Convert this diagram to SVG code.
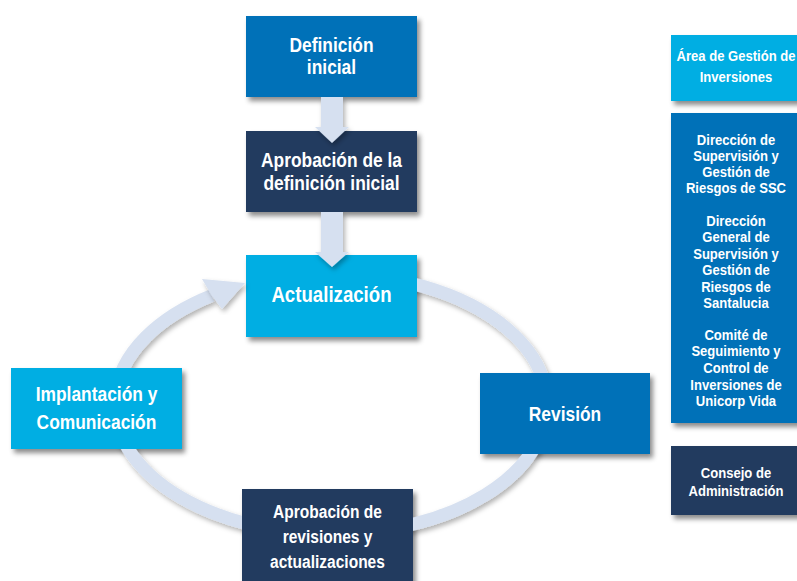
<svg xmlns="http://www.w3.org/2000/svg" width="797" height="581" viewBox="0 0 797 581">
  <style>
    text { font-family: "Liberation Sans", Arial, sans-serif; font-weight: bold; fill: #ffffff; text-anchor: middle; transform-box: fill-box; transform-origin: center; transform: scaleX(0.84); }
    .main { font-size: 20.7px; }
    .big { font-size: 22.2px; }
    .small { font-size: 18.5px; }
    .side { font-size: 15.2px; transform: scaleX(0.86); }
    .cyan { fill: #00aee3; }
    .blue { fill: #0071b8; }
    .navy { fill: #243b5e; }
    .box { filter: url(#shadow); }
    .flow { fill: #d6e0f0; filter: url(#ashadow); }
    .ring { fill: none; stroke: #d6e0f0; stroke-width: 13; filter: url(#ashadow); }
  </style>
  <defs>
    <filter id="shadow" x="-10%" y="-10%" width="130%" height="140%">
      <feDropShadow dx="3" dy="4" stdDeviation="2.5" flood-color="#000000" flood-opacity="0.45"/>
    </filter>
    <filter id="ashadow" x="-10%" y="-10%" width="130%" height="130%">
      <feDropShadow dx="2" dy="3" stdDeviation="2.5" flood-color="#000000" flood-opacity="0.3"/>
    </filter>
    <mask id="ringMask" maskUnits="userSpaceOnUse" x="0" y="0" width="797" height="581">
      <rect x="0" y="0" width="797" height="581" fill="#ffffff"/>
      <rect x="246" y="255" width="171" height="82" fill="#000000"/>
      <rect x="11" y="368" width="171" height="81" fill="#000000"/>
      <rect x="480" y="373" width="170" height="81" fill="#000000"/>
      <rect x="242" y="489" width="171" height="92" fill="#000000"/>
    </mask>
  </defs>

  <rect width="797" height="581" fill="#ffffff"/>

  <g id="node-definicion">
    <rect class="box blue" x="246" y="16" width="171" height="81"/>
    <text class="main" x="331.5" y="52">Definición</text>
    <text class="main" x="331.5" y="74.5">inicial</text>
  </g>

  <g id="node-aprobacion-definicion">
    <rect class="box navy" x="246" y="131" width="171" height="81"/>
    <text class="main" x="331.5" y="167">Aprobación de la</text>
    <text class="main" x="331.5" y="190">definición inicial</text>
  </g>

  <g id="node-actualizacion">
    <rect class="box cyan" x="246" y="255" width="171" height="82"/>
    <text class="big" x="331.5" y="302.5">Actualización</text>
  </g>

  <g id="node-implantacion">
    <rect class="box cyan" x="11" y="368" width="171" height="81"/>
    <text class="main" x="96.5" y="401.5">Implantación y</text>
    <text class="main" x="96.5" y="429">Comunicación</text>
  </g>

  <g id="node-revision">
    <rect class="box blue" x="480" y="373" width="170" height="81"/>
    <text class="main" x="565" y="421.5">Revisión</text>
  </g>

  <g id="node-aprobacion-revisiones">
    <rect class="box navy" x="242" y="489" width="171" height="100"/>
    <text class="small" x="327.5" y="518">Aprobación de</text>
    <text class="small" x="327.5" y="543">revisiones y</text>
    <text class="small" x="327.5" y="568">actualizaciones</text>
  </g>

  <g id="node-area-gestion">
    <rect class="box cyan" x="671" y="35" width="134" height="66"/>
    <text class="side" x="736" y="61.5">Área de Gestión de</text>
    <text class="side" x="736" y="82.5">Inversiones</text>
  </g>

  <g id="node-direcciones">
    <rect class="box blue" x="671" y="113" width="134" height="310"/>
    <text class="side" x="736" y="145">Dirección de</text>
    <text class="side" x="736" y="161">Supervisión y</text>
    <text class="side" x="736" y="177">Gestión de</text>
    <text class="side" x="736" y="193">Riesgos de SSC</text>
    <text class="side" x="736" y="226">Dirección</text>
    <text class="side" x="736" y="242.5">General de</text>
    <text class="side" x="736" y="259">Supervisión y</text>
    <text class="side" x="736" y="275.5">Gestión de</text>
    <text class="side" x="736" y="292">Riesgos de</text>
    <text class="side" x="736" y="308">Santalucia</text>
    <text class="side" x="736" y="340">Comité de</text>
    <text class="side" x="736" y="356.5">Seguimiento y</text>
    <text class="side" x="736" y="373">Control de</text>
    <text class="side" x="736" y="390">Inversiones de</text>
    <text class="side" x="736" y="406.5">Unicorp Vida</text>
  </g>

  <g id="node-consejo">
    <rect class="box navy" x="671" y="446" width="134" height="69"/>
    <text class="side" x="736" y="478">Consejo de</text>
    <text class="side" x="736" y="496">Administración</text>
  </g>

  <g id="connectors">
    <g mask="url(#ringMask)">
      <path class="ring" d="M331,274 A216,130 0 1 1 212,295.5"/>
    </g>
    <polygon class="flow" points="245,283 222,309 212,296 202,279"/>
    <polygon class="flow" points="321,97 343,97 343,127 349,127 332,143 315,127 321,127"/>
    <polygon class="flow" points="321,212 343,212 343,252 349,252 332,267 315,252 321,252"/>
  </g>
</svg>
